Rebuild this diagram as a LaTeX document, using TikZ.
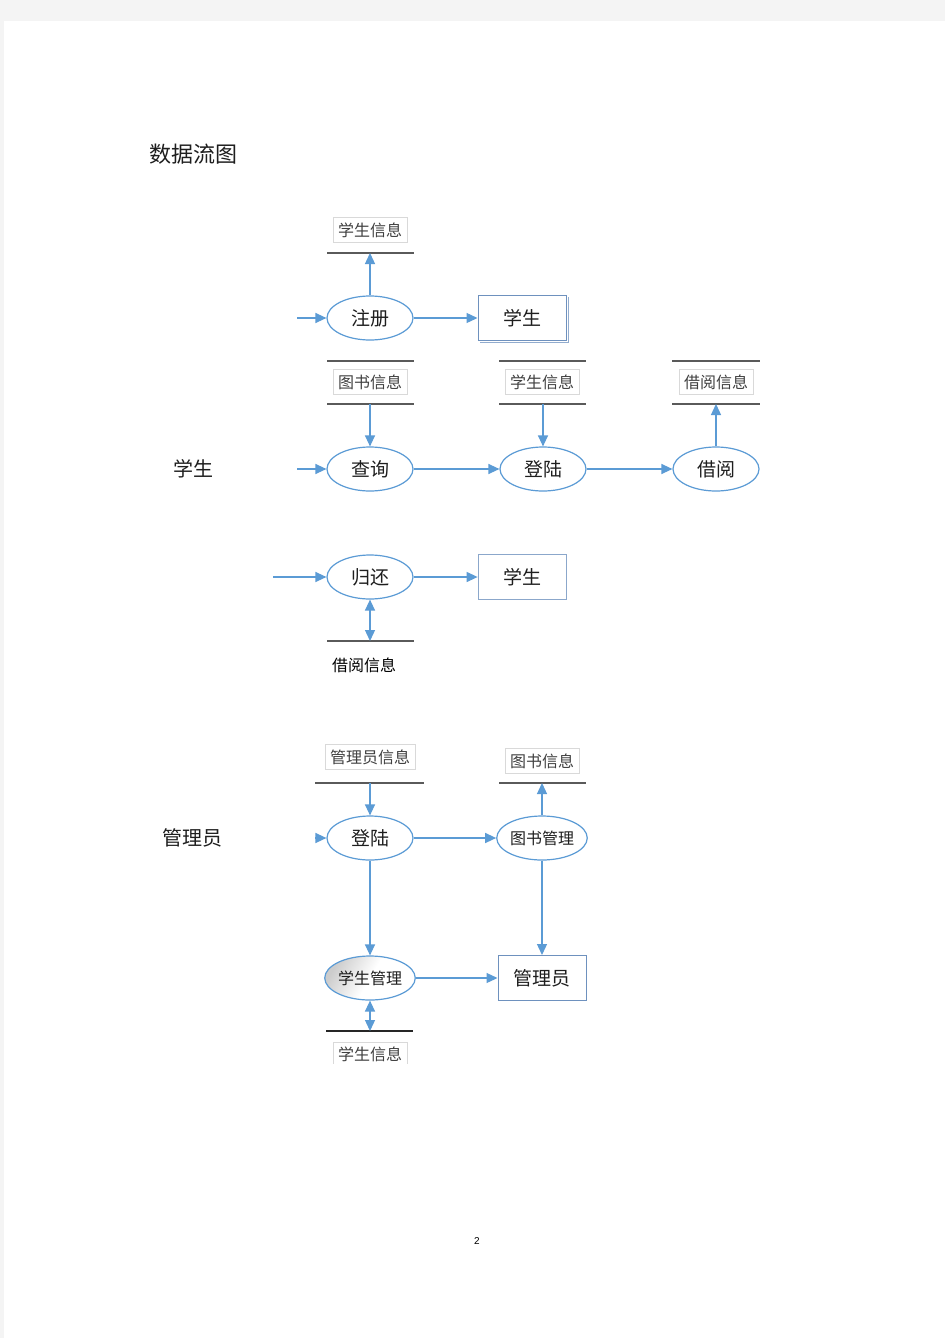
\documentclass[tikz,border=0pt]{standalone}
\usepackage{fontspec}
\setmainfont{Liberation Sans}
\newfontfamily\cjk{Noto Sans CJK SC}
\usetikzlibrary{shapes.geometric,arrows.meta}
\definecolor{flowblue}{RGB}{91,155,213}
\definecolor{boxblue}{RGB}{110,145,190}
\definecolor{storegray}{RGB}{90,90,90}
\definecolor{pagegray}{RGB}{244,244,244}
\definecolor{txt}{RGB}{30,30,30}
\tikzset{
  proc/.style={ellipse, draw=flowblue, line width=1.2pt, fill=white, minimum width=86pt, minimum height=44pt, inner sep=0pt, text=txt, font=\cjk\fontsize{19}{19}\selectfont},
  procsm/.style={proc, font=\cjk\fontsize{16}{16}\selectfont},
  ent/.style={rectangle, draw=boxblue, line width=1pt, fill=white, minimum width=88pt, minimum height=45pt, inner sep=0pt, text=txt, font=\cjk\fontsize{19}{19}\selectfont},
  lbl/.style={rectangle, draw=gray!30, line width=0.6pt, fill=white, minimum width=74pt, minimum height=25pt, inner sep=1pt, text=txt!85, font=\cjk\fontsize{16}{16}\selectfont},
  flow/.style={draw=flowblue, line width=1.3pt, -{Triangle[length=11pt,width=10pt]}},
  bflow/.style={draw=flowblue, line width=1.3pt, {Triangle[length=11pt,width=10pt]}-{Triangle[length=11pt,width=10pt]}},
  store/.style={draw=storegray, line width=1.3pt},
  side/.style={font=\cjk\fontsize{20}{20}\selectfont, text=txt}
}
\begin{document}
\begin{tikzpicture}[x=1pt,y=-1pt]
\useasboundingbox (0,0) rectangle (945,1338);
\fill[pagegray] (0,0) rectangle (945,1338);
\fill[white] (4,21) rectangle (945,1338);

\node[font=\cjk\fontsize{22}{22}\selectfont, text=txt] (title) at (193,154) {数据流图};

% ---- section 1: register
\node[lbl] (l1) at (370,230) {学生信息};
\draw[store] (327,253) -- (414,253);
\coordinate (s1) at (370,253);
\node[proc] (reg) at (370,318) {注册};
\node[ent] (stu1) at (522,318) {学生};
\draw[boxblue!75, line width=1.2pt] ([xshift=1.8pt,yshift=-2pt]stu1.north east) -- ([xshift=1.8pt,yshift=-1.8pt]stu1.south east) -- ([xshift=2pt,yshift=-1.8pt]stu1.south west);
\coordinate (in1) at (297,318);
\draw[flow] (in1) -- (reg);
\draw[flow] (reg.north) -- (s1);
\draw[flow] (reg) -- (stu1);

% ---- section 2: query/login/borrow
\node[side] (stulab) at (193,469) {学生};
\draw[store] (327,361) -- (414,361);
\draw[store] (327,404) -- (414,404);
\draw[store] (499,361) -- (586,361);
\draw[store] (499,404) -- (586,404);
\draw[store] (672,361) -- (760,361);
\draw[store] (672,404) -- (760,404);
\node[lbl] (l2) at (370,382) {图书信息};
\node[lbl] (l3) at (542,382) {学生信息};
\node[lbl] (l4) at (716,382) {借阅信息};
\coordinate (s2) at (370,404);
\coordinate (s3) at (543,404);
\coordinate (s4) at (716,404);
\node[proc] (query) at (370,469) {查询};
\node[proc] (login) at (543,469) {登陆};
\node[proc] (borrow) at (716,469) {借阅};
\coordinate (in2) at (297,469);
\draw[flow] (in2) -- (query);
\draw[flow] (query) -- (login);
\draw[flow] (login) -- (borrow);
\draw[flow] (s2) -- (query.north);
\draw[flow] (s3) -- (login.north);
\draw[flow] (borrow.north) -- (s4);

% ---- section 3: return
\node[proc] (ret) at (370,577) {归还};
\node[ent, draw=boxblue!80, line width=0.8pt] (stu2) at (522,577) {学生};
\coordinate (in3) at (273,577);
\draw[flow] (in3) -- (ret);
\draw[flow] (ret) -- (stu2);
\draw[store] (327,641) -- (414,641);
\coordinate (s5) at (370,641);
\draw[bflow] (ret.south) -- (s5);
\node[font=\cjk\fontsize{16}{16}\selectfont, text=black] (l5) at (364,665) {借阅信息};

% ---- section 4: administrator
\node[side] (admlab) at (192,838) {管理员};
\node[lbl, minimum width=90pt] (l6) at (370,757) {管理员信息};
\node[lbl] (l7) at (542,761) {图书信息};
\draw[store] (315,783) -- (424,783);
\draw[store] (499,783) -- (586,783);
\coordinate (s6) at (370,783);
\coordinate (s7) at (542,783);
\node[proc] (alogin) at (370,838) {登陆};
\node[procsm] (bookm) at (542,838) {图书管理};
\node[procsm, shading=axis, left color=gray!40, right color=white, middle color=white, shading angle=60] (stum) at (370,978) {学生管理};
\node[ent] (adm) at (542,978) {管理员};
\coordinate (in4) at (315,838);
\draw[flow] (in4) -- (alogin);
\draw[flow] (s6) -- (alogin.north);
\draw[flow] (alogin) -- (bookm);
\draw[flow] (bookm.north) -- (s7);
\draw[flow] (bookm.south) -- (adm.north);
\draw[flow] (alogin.south) -- (stum.north);
\draw[flow] (stum) -- (adm);
\draw[draw=black!85, line width=2pt] (326,1031) -- (413,1031);
\coordinate (s8) at (370,1031);
\draw[bflow] (stum.south) -- (s8);
\begin{scope}
\clip (300,1035) rectangle (420,1063);
\node[lbl, minimum height=24pt] (l8) at (370,1054) {学生信息};
\end{scope}

\node[font=\fontsize{10}{10}\selectfont] (pg) at (477,1241) {2};
\end{tikzpicture}
\end{document}
